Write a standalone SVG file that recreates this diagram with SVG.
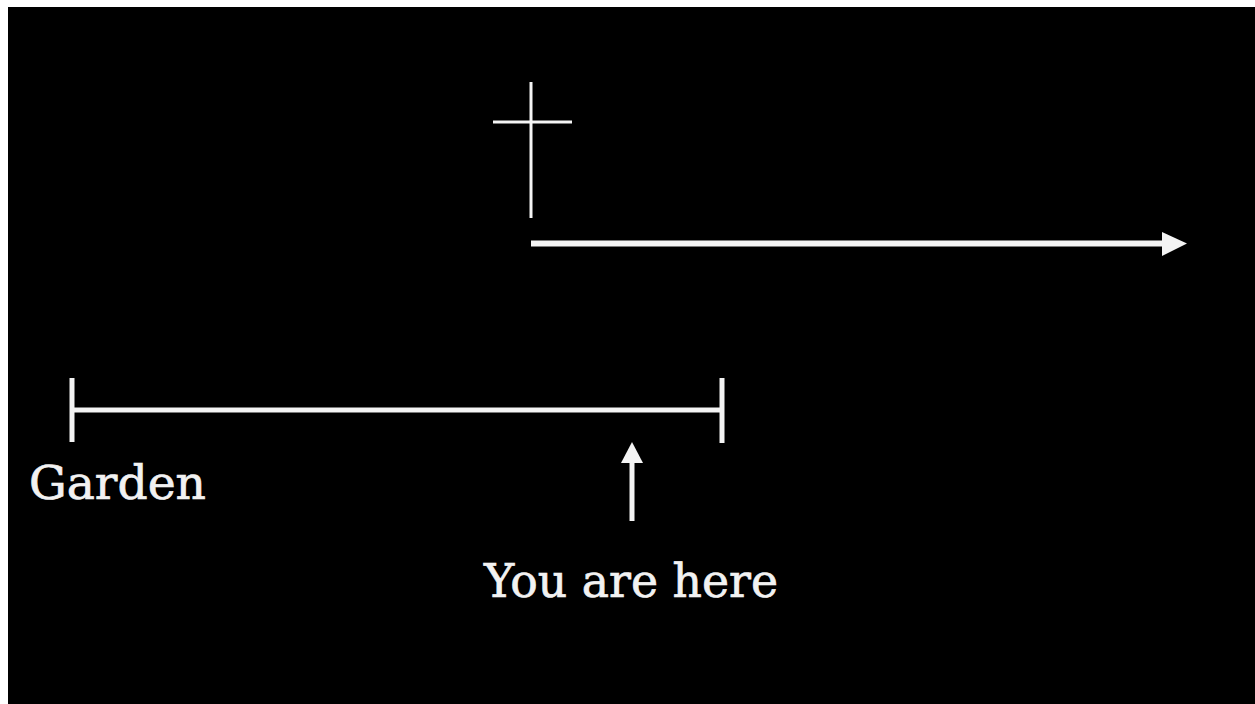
<svg xmlns="http://www.w3.org/2000/svg" width="1255" height="704" viewBox="0 0 1255 704">
  <style>
    .ln { stroke: #f4f4f4; fill: none; }
    .hd { fill: #f4f4f4; stroke: none; }
    .lbl { fill: #f2f2f2; stroke: #f2f2f2; stroke-width: 0.7px; font-family: "DejaVu Serif", "Liberation Serif", serif; font-size: 46px; }
  </style>
  <rect x="0" y="0" width="1255" height="704" fill="#ffffff"/>
  <rect x="8" y="7" width="1247" height="697" fill="#000000"/>
  <g id="cross">
    <line class="ln" x1="531" y1="82" x2="531" y2="218" stroke-width="3"/>
    <line class="ln" x1="493" y1="122" x2="572" y2="122" stroke-width="3"/>
  </g>
  <g id="timeline">
    <line class="ln" x1="72" y1="410" x2="722" y2="410" stroke-width="5"/>
    <line class="ln" x1="72" y1="378" x2="72" y2="442" stroke-width="5"/>
    <line class="ln" x1="722" y1="378" x2="722" y2="443" stroke-width="5"/>
  </g>
  <g id="garden">
    <text class="lbl" x="29" y="499" textLength="177" lengthAdjust="spacingAndGlyphs">Garden</text>
  </g>
  <g id="you-are-here">
    <text class="lbl" x="484" y="597" textLength="294" lengthAdjust="spacingAndGlyphs">You are here</text>
  </g>
  <g id="connectors">
    <line class="ln" x1="531" y1="243.5" x2="1164" y2="243.5" stroke-width="6"/>
    <polygon class="hd" points="1162,232 1187,243.5 1162,256"/>
    <line class="ln" x1="632" y1="458" x2="632" y2="521" stroke-width="5"/>
    <polygon class="hd" points="621,463 632,442 643,463"/>
  </g>
</svg>
